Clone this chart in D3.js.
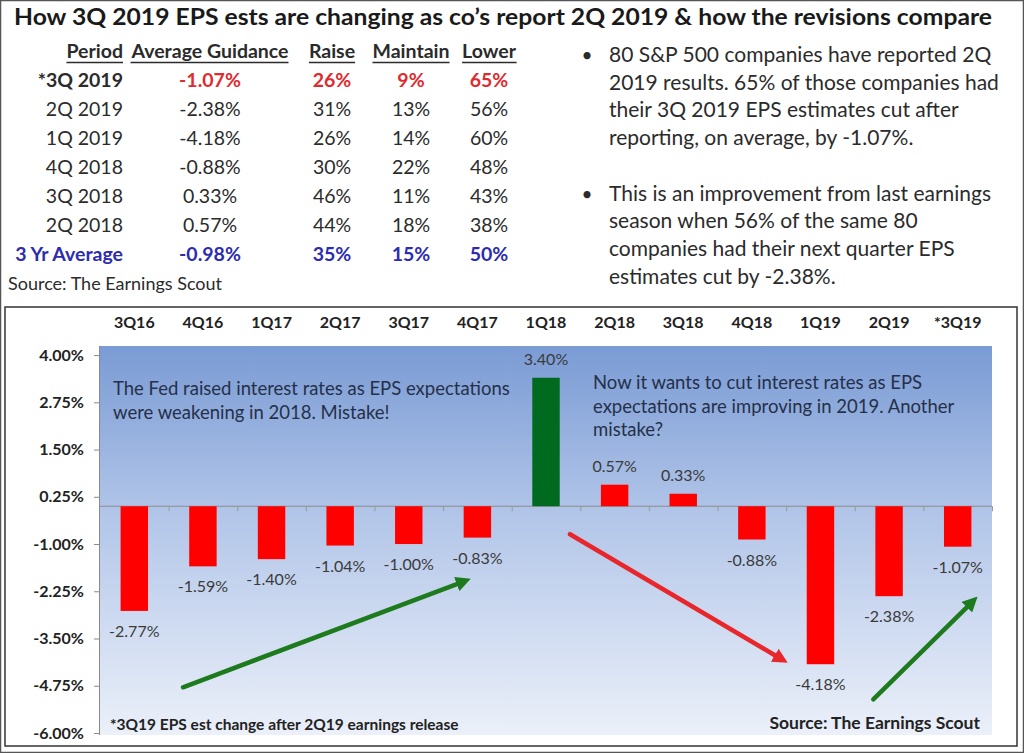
<!DOCTYPE html>
<html>
<head>
<meta charset="utf-8">
<script src="https://cdn.jsdelivr.net/npm/d3@7"></script>
<style>
  body { margin: 0; background: #fff; }
  svg { display: block; font-family: Lato, "Open Sans", sans-serif; }
</style>
</head>
<body>
<svg id="chart" width="1024" height="753"></svg>
<script>
// ---- data ----
const categories = ['3Q16', '4Q16', '1Q17', '2Q17', '3Q17', '4Q17', '1Q18', '2Q18', '3Q18', '4Q18', '1Q19', '2Q19', '*3Q19'];
const changes = [-2.77, -1.59, -1.40, -1.04, -1.00, -0.83, 3.40, 0.57, 0.33, -0.88, -4.18, -2.38, -1.07];
const yTicks = [-6, -4.75, -3.5, -2.25, -1, 0.25, 1.5, 2.75, 4];

const tableHeaders = ['Period', 'Average Guidance', 'Raise', 'Maintain', 'Lower'];
const periods = ['*3Q 2019', '2Q 2019', '1Q 2019', '4Q 2018', '3Q 2018', '2Q 2018', '3 Yr Average'];
const avgGuidance = ['-1.07%', '-2.38%', '-4.18%', '-0.88%', '0.33%', '0.57%', '-0.98%'];
const raisePct = ['26%', '31%', '26%', '30%', '46%', '44%', '35%'];
const maintainPct = ['9%', '13%', '14%', '22%', '11%', '18%', '15%'];
const lowerPct = ['65%', '56%', '60%', '48%', '43%', '38%', '50%'];

const bulletOne = ['80 S&P 500 companies have reported 2Q', '2019 results. 65% of those companies had',
  'their 3Q 2019 EPS estimates cut after', 'reporting, on average, by -1.07%.'];
const bulletTwo = ['This is an improvement from last earnings', 'season when 56% of the same 80',
  'companies had their next quarter EPS', 'estimates cut by -2.38%.'];

const noteLeft = ['The Fed raised interest rates as EPS expectations', 'were weakening in 2018. Mistake!'];
const noteRight = ['Now it wants to cut interest rates as EPS', 'expectations are improving in 2019. Another', 'mistake?'];

// arrows in data space: fractional category index and % value
const arrows = [
  {i0: 0.71, v0: -4.79, i1: 4.89, v1: -1.93, color: '#1d7a1d'},
  {i0: 6.35, v0: -0.74, i1: 9.51, v1: -4.13, color: '#e8262b'},
  {i0: 10.77, v0: -5.11, i1: 12.28, v1: -2.41, color: '#1d7a1d'}
];

const svg = d3.select('#chart');
const ink = '#2b2b2b';
const pct = d => d3.format('.2f')(d).replace('\u2212', '-') + '%';

// page frame
svg.append('rect').attr('x', 0.5).attr('y', 0.5).attr('width', 1023).attr('height', 752)
    .attr('fill', '#fff').attr('stroke', '#555').attr('stroke-width', 1.5);

// title
svg.append('text').attr('x', 14).attr('y', 25)
    .attr('font-size', 22).attr('font-weight', 700).attr('fill', '#1a1a1a')
    .attr('textLength', 978).attr('lengthAdjust', 'spacingAndGlyphs')
    .text('How 3Q 2019 EPS ests are changing as co\u2019s report 2Q 2019 & how the revisions compare');

// ---- table ----
const rowY = d3.scaleLinear().domain([0, 1]).range([87, 116]);
const colX = [123, 210, 332, 411, 489];
const columns = [periods, avgGuidance, raisePct, maintainPct, lowerPct];
const table = svg.append('g').attr('font-size', 19.5);

tableHeaders.forEach((h, c) => {
  const t = table.append('text')
      .attr('x', colX[c]).attr('y', 58)
      .attr('text-anchor', c === 0 ? 'end' : 'middle')
      .attr('font-weight', 700).attr('fill', ink).text(h);
  const b = t.node().getBBox();
  table.append('line').attr('x1', b.x).attr('x2', b.x + b.width)
      .attr('y1', 62.5).attr('y2', 62.5).attr('stroke', ink).attr('stroke-width', 1.4);
});

columns.forEach((col, c) => {
  table.selectAll(null).data(col).enter().append('text')
      .attr('x', colX[c]).attr('y', (d, r) => rowY(r))
      .attr('text-anchor', c === 0 ? 'end' : 'middle')
      .attr('font-weight', (d, r) => (r === 0 || r === col.length - 1) ? 700 : 400)
      .attr('fill', (d, r) => {
        if (r === col.length - 1) return '#2c2cb0';
        if (r === 0 && c > 0) return '#e02a2f';
        return ink;
      })
      .text(d => d);
});

svg.append('text').attr('x', 8).attr('y', 290).attr('font-size', 18).attr('fill', ink)
    .text('Source: The Earnings Scout');

// ---- bullets ----
const bulletLine = d3.scaleLinear().domain([0, 1]).range([62, 89.7]);
[[bulletOne, 0], [bulletTwo, 5]].forEach(([lines, start]) => {
  svg.append('text').attr('x', 587).attr('y', bulletLine(start)).attr('font-size', 19)
      .attr('fill', ink).attr('text-anchor', 'middle').text('\u2022');
  svg.append('g').selectAll('text').data(lines).enter().append('text')
      .attr('x', 609).attr('y', (d, k) => bulletLine(start + k))
      .attr('font-size', 21).attr('fill', ink).text(d => d);
});

// ---- chart ----
svg.append('rect').attr('x', 5).attr('y', 307).attr('width', 1012).attr('height', 439)
    .attr('fill', '#fff').attr('stroke', '#333').attr('stroke-width', 1.5);

const plot = {left: 100, right: 992, top: 346, bottom: 733};
const x = d3.scaleBand().domain(categories).range([plot.left, plot.right]).paddingInner(0.6).paddingOuter(0.3);
const xi = d3.scaleLinear().domain([-0.5, categories.length - 0.5]).range([plot.left, plot.right]);
const y = d3.scaleLinear().domain([-6, 4.24]).range([plot.bottom, plot.top]);

const defs = svg.append('defs');
const grad = defs.append('linearGradient').attr('id', 'bg').attr('x1', 0).attr('y1', 0).attr('x2', 0).attr('y2', 1);
grad.append('stop').attr('offset', '0%').attr('stop-color', '#7a9bd4');
grad.append('stop').attr('offset', '45%').attr('stop-color', '#b4c7e9');
grad.append('stop').attr('offset', '100%').attr('stop-color', '#ebf0f9');

svg.append('rect').attr('x', plot.left).attr('y', plot.top)
    .attr('width', plot.right - plot.left).attr('height', plot.bottom - plot.top + 2)
    .attr('fill', 'url(#bg)');

// y axis
const yAxis = svg.append('g').attr('transform', `translate(${plot.left},0)`)
    .call(d3.axisLeft(y).tickValues(yTicks).tickSize(6).tickPadding(10).tickFormat(pct));
yAxis.select('.domain').attr('stroke', '#8a8a8a').attr('d', `M-0.5,${plot.top}V${plot.bottom + 2}`);
yAxis.selectAll('.tick line').attr('stroke', '#8a8a8a');
yAxis.selectAll('.tick text').attr('font-family', 'Lato, sans-serif').attr('font-size', 16)
    .attr('font-weight', 700).attr('fill', '#222');

// category labels on top
svg.append('g').selectAll('text').data(categories).enter().append('text')
    .attr('x', d => x(d) + x.bandwidth() / 2).attr('y', 328)
    .attr('text-anchor', 'middle').attr('font-size', 16).attr('font-weight', 700).attr('fill', '#222')
    .text(d => d);

// zero line with category boundary ticks
const zeroAxis = svg.append('g').attr('transform', `translate(0,${y(0)})`)
    .call(d3.axisBottom(xi).tickValues(d3.range(0.5, categories.length, 1)).tickSize(5).tickFormat(''));
zeroAxis.select('.domain').attr('stroke', '#8c8c8c').attr('d', `M${plot.left},0H${plot.right}`);
zeroAxis.selectAll('.tick line').attr('stroke', '#9a9a9a');

// bars
const maxVal = d3.max(changes);
svg.append('g').selectAll('rect').data(changes).enter().append('rect')
    .attr('x', (d, i) => x(categories[i]))
    .attr('width', x.bandwidth())
    .attr('y', d => y(Math.max(0, d)))
    .attr('height', d => Math.abs(y(d) - y(0)))
    .attr('fill', d => d === maxVal ? '#006b1e' : '#ff0000');

// value labels
svg.append('g').selectAll('text').data(changes).enter().append('text')
    .attr('x', (d, i) => x(categories[i]) + x.bandwidth() / 2)
    .attr('y', d => d >= 0 ? y(d) - 13 : y(d) + 26)
    .attr('text-anchor', 'middle').attr('font-size', 16).attr('fill', '#3a3a3a')
    .text(pct);

// annotations
const noteColor = '#25304a';
svg.append('g').selectAll('text').data(noteLeft).enter().append('text')
    .attr('x', 113).attr('y', (d, k) => 395 + k * 24)
    .attr('font-size', 18.5).attr('fill', noteColor).text(d => d);
svg.append('g').selectAll('text').data(noteRight).enter().append('text')
    .attr('x', 593).attr('y', (d, k) => 389 + k * 23.5)
    .attr('font-size', 18.5).attr('fill', noteColor).text(d => d);

svg.append('text').attr('x', 110).attr('y', 730).attr('font-size', 15.5).attr('font-weight', 700)
    .attr('fill', '#222').text('*3Q19 EPS est change after 2Q19 earnings release');
svg.append('text').attr('x', 980).attr('y', 729).attr('text-anchor', 'end').attr('font-size', 17.5)
    .attr('font-weight', 700).attr('fill', '#222').text('Source: The Earnings Scout');

// arrows
arrows.forEach((a, k) => {
  defs.append('marker').attr('id', 'head' + k)
      .attr('viewBox', '0 0 10 10').attr('refX', 2).attr('refY', 5)
      .attr('markerUnits', 'userSpaceOnUse').attr('markerWidth', 15).attr('markerHeight', 15)
      .attr('orient', 'auto')
    .append('path').attr('d', 'M0,0L10,5L0,10z').attr('fill', a.color);
  const x0 = xi(a.i0), y0 = y(a.v0), x1 = xi(a.i1), y1 = y(a.v1);
  const len = Math.hypot(x1 - x0, y1 - y0);
  svg.append('line')
      .attr('x1', x0).attr('y1', y0)
      .attr('x2', x1 - (x1 - x0) / len * 11).attr('y2', y1 - (y1 - y0) / len * 11)
      .attr('stroke', a.color).attr('stroke-width', 4.5).attr('stroke-linecap', 'round')
      .attr('marker-end', `url(#head${k})`);
});
</script>
</body>
</html>
